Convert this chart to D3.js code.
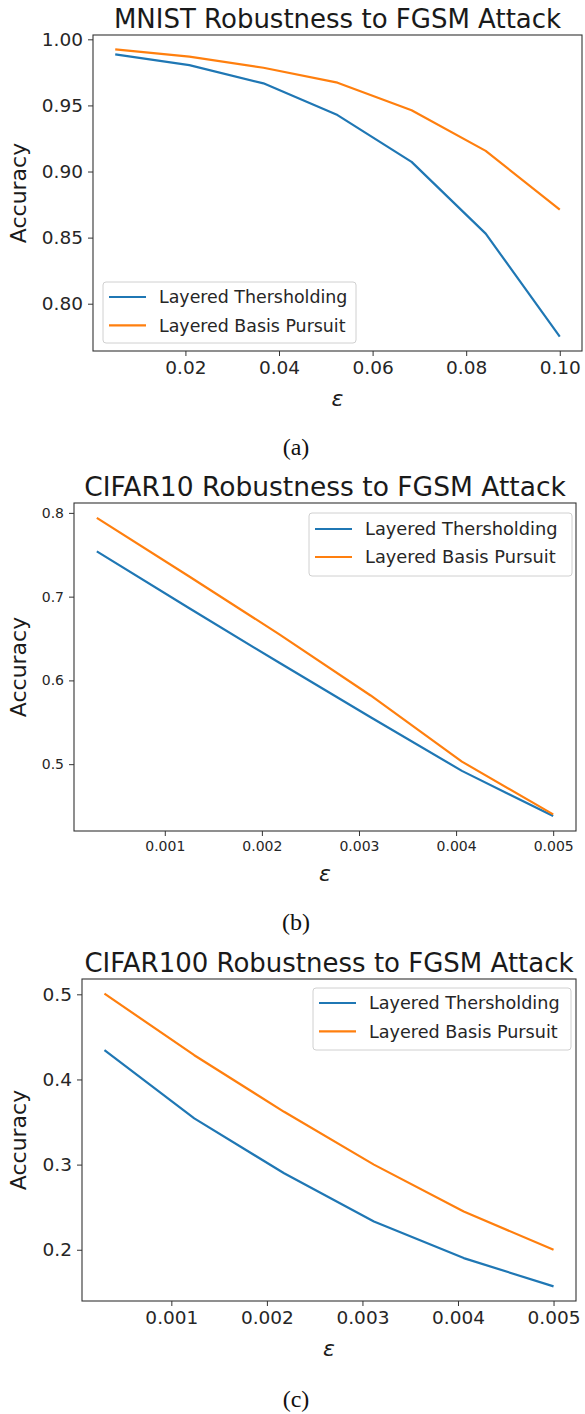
<!DOCTYPE html>
<html>
<head>
<meta charset="utf-8">
<script src="https://cdn.jsdelivr.net/npm/d3@7"></script>
<style>
  body { margin: 0; background: #fff; }
  svg { display: block; }
  .tick text { fill: #262626; }
</style>
</head>
<body>
<div id="chart"></div>
<script>
// data
const seriesNames = ["Layered Thersholding", "Layered Basis Pursuit"];
const seriesColors = ["#1f77b4", "#ff7f0e"];

const epsMnist = [0.005, 0.02083, 0.03667, 0.0525, 0.06833, 0.08417, 0.1];
const mnistThresh = [0.9886, 0.9805, 0.9667, 0.9427, 0.9073, 0.8530, 0.7751];
const mnistBP = [0.9924, 0.9869, 0.9785, 0.9672, 0.9464, 0.9156, 0.8711];

const epsCifar = [0.0003, 0.00124, 0.00218, 0.00312, 0.00406, 0.005];
const cifar10Thresh = [0.754, 0.687, 0.621, 0.556, 0.492, 0.438];
const cifar10BP = [0.794, 0.725, 0.655, 0.582, 0.503, 0.440];
const cifar100Thresh = [0.4344, 0.3543, 0.2898, 0.2332, 0.1902, 0.157];
const cifar100BP = [0.5008, 0.4285, 0.362, 0.300, 0.2449, 0.200];

const mnistXTicks = [0.02, 0.04, 0.06, 0.08, 0.10];
const mnistYTicks = [0.80, 0.85, 0.90, 0.95, 1.00];
const cifarXTicks = [0.001, 0.002, 0.003, 0.004, 0.005];
const cifar10YTicks = [0.5, 0.6, 0.7, 0.8];
const cifar100YTicks = [0.2, 0.3, 0.4, 0.5];

const W = 585, H = 1414;
const svg = d3.select("#chart").append("svg")
    .attr("width", W).attr("height", H)
    .style("background-color", "#fff");

const font = "DejaVu Sans, sans-serif";

function pad(ext) {
    const m = (ext[1] - ext[0]) * 0.05;
    return [ext[0] - m, ext[1] + m];
}

function drawPanel(p) {
    const g = svg.append("g");
    const x = d3.scaleLinear().domain(pad(d3.extent(p.xs))).range([p.left, p.right]);
    const allY = p.series.flat();
    const y = d3.scaleLinear().domain(pad(d3.extent(allY))).range([p.bottom, p.top]);

    // axes
    const xAxis = d3.axisBottom(x).tickValues(p.xTicks).tickFormat(d3.format(p.xFmt))
        .tickSizeInner(5).tickSizeOuter(0).tickPadding(5);
    const yAxis = d3.axisLeft(y).tickValues(p.yTicks).tickFormat(d3.format(p.yFmt))
        .tickSizeInner(5).tickSizeOuter(0).tickPadding(5);

    g.append("g").attr("transform", `translate(0,${p.bottom})`).call(xAxis)
        .call(a => a.select(".domain").remove())
        .selectAll("text").style("font-family", font).style("font-size", p.tickSize + "px");
    g.append("g").attr("transform", `translate(${p.left},0)`).call(yAxis)
        .call(a => a.select(".domain").remove())
        .selectAll("text").style("font-family", font).style("font-size", p.tickSize + "px");
    g.selectAll(".tick line").attr("stroke", "#333").attr("stroke-width", 1);

    // lines
    const line = d3.line().x((d, i) => x(p.xs[i])).y(d => y(d));
    g.selectAll(".series")
        .data(p.series)
        .enter().append("path")
        .attr("d", line)
        .attr("fill", "none")
        .attr("stroke", (d, i) => seriesColors[i])
        .attr("stroke-width", 2.2)
        .attr("stroke-linejoin", "round");

    // frame
    g.append("rect")
        .attr("x", p.left).attr("y", p.top)
        .attr("width", p.right - p.left).attr("height", p.bottom - p.top)
        .attr("fill", "none").attr("stroke", "#333").attr("stroke-width", 1.1);

    // title and labels
    g.append("text")
        .attr("x", (p.left + p.right) / 2).attr("y", p.titleY)
        .attr("text-anchor", "middle")
        .style("font-family", font).style("font-size", p.titleSize + "px")
        .attr("fill", "#1a1a1a")
        .text(p.title);

    g.append("text")
        .attr("transform", `translate(${p.ylabelX},${(p.top + p.bottom) / 2}) rotate(-90)`)
        .attr("text-anchor", "middle")
        .style("font-family", font).style("font-size", "22px")
        .attr("fill", "#1a1a1a")
        .text("Accuracy");

    g.append("text")
        .attr("x", (p.left + p.right) / 2).attr("y", p.xlabelY)
        .attr("text-anchor", "middle")
        .style("font-family", font).style("font-style", "italic").style("font-size", "22px")
        .attr("fill", "#1a1a1a")
        .text("ε");

    g.append("text")
        .attr("x", 296).attr("y", p.captionY)
        .attr("text-anchor", "middle")
        .style("font-family", "Liberation Serif, serif").style("font-size", "24px")
        .attr("fill", "#111")
        .text(p.caption);

    // legend
    const L = p.legend;
    const lg = g.append("g").attr("transform", `translate(${L.x},${L.y})`);
    lg.append("rect")
        .attr("width", L.w).attr("height", L.h).attr("rx", 3)
        .attr("fill", "#fff").attr("fill-opacity", 0.8)
        .attr("stroke", "#d0d0d0").attr("stroke-width", 1);
    const rows = lg.selectAll(".row").data(seriesNames).enter().append("g")
        .attr("transform", (d, i) => `translate(0,${L.first + i * L.step})`);
    rows.append("line")
        .attr("x1", 6).attr("x2", 43)
        .attr("stroke", (d, i) => seriesColors[i]).attr("stroke-width", 2.2);
    rows.append("text")
        .attr("x", 56).attr("dy", "0.36em")
        .style("font-family", font).style("font-size", L.size + "px")
        .attr("fill", "#262626")
        .text(d => d);
}

drawPanel({
    title: "MNIST Robustness to FGSM Attack", caption: "(a)",
    xs: epsMnist, series: [mnistThresh, mnistBP],
    xTicks: mnistXTicks, yTicks: mnistYTicks, xFmt: ".2f", yFmt: ".2f",
    left: 93, right: 582, top: 35, bottom: 351,
    tickSize: 18.5, titleSize: 26, titleY: 28, ylabelX: 26, xlabelY: 406, captionY: 455,
    legend: { x: 103, y: 282, w: 253, h: 61, first: 15, step: 28.3, size: 17.4 }
});

drawPanel({
    title: "CIFAR10 Robustness to FGSM Attack", caption: "(b)",
    xs: epsCifar, series: [cifar10Thresh, cifar10BP],
    xTicks: cifarXTicks, yTicks: cifar10YTicks, xFmt: ".3f", yFmt: ".1f",
    left: 74, right: 576, top: 503, bottom: 831,
    tickSize: 14, titleSize: 26.5, titleY: 496, ylabelX: 26, xlabelY: 881, captionY: 930,
    legend: { x: 309, y: 513, w: 263, h: 63, first: 16, step: 28, size: 17.8 }
});

drawPanel({
    title: "CIFAR100 Robustness to FGSM Attack", caption: "(c)",
    xs: epsCifar, series: [cifar100Thresh, cifar100BP],
    xTicks: cifarXTicks, yTicks: cifar100YTicks, xFmt: ".3f", yFmt: ".1f",
    left: 82, right: 576, top: 979, bottom: 1301,
    tickSize: 18.5, titleSize: 26, titleY: 972, ylabelX: 26, xlabelY: 1356, captionY: 1407,
    legend: { x: 313, y: 988, w: 258, h: 62, first: 15, step: 28.4, size: 17.6 }
});
</script>
</body>
</html>
